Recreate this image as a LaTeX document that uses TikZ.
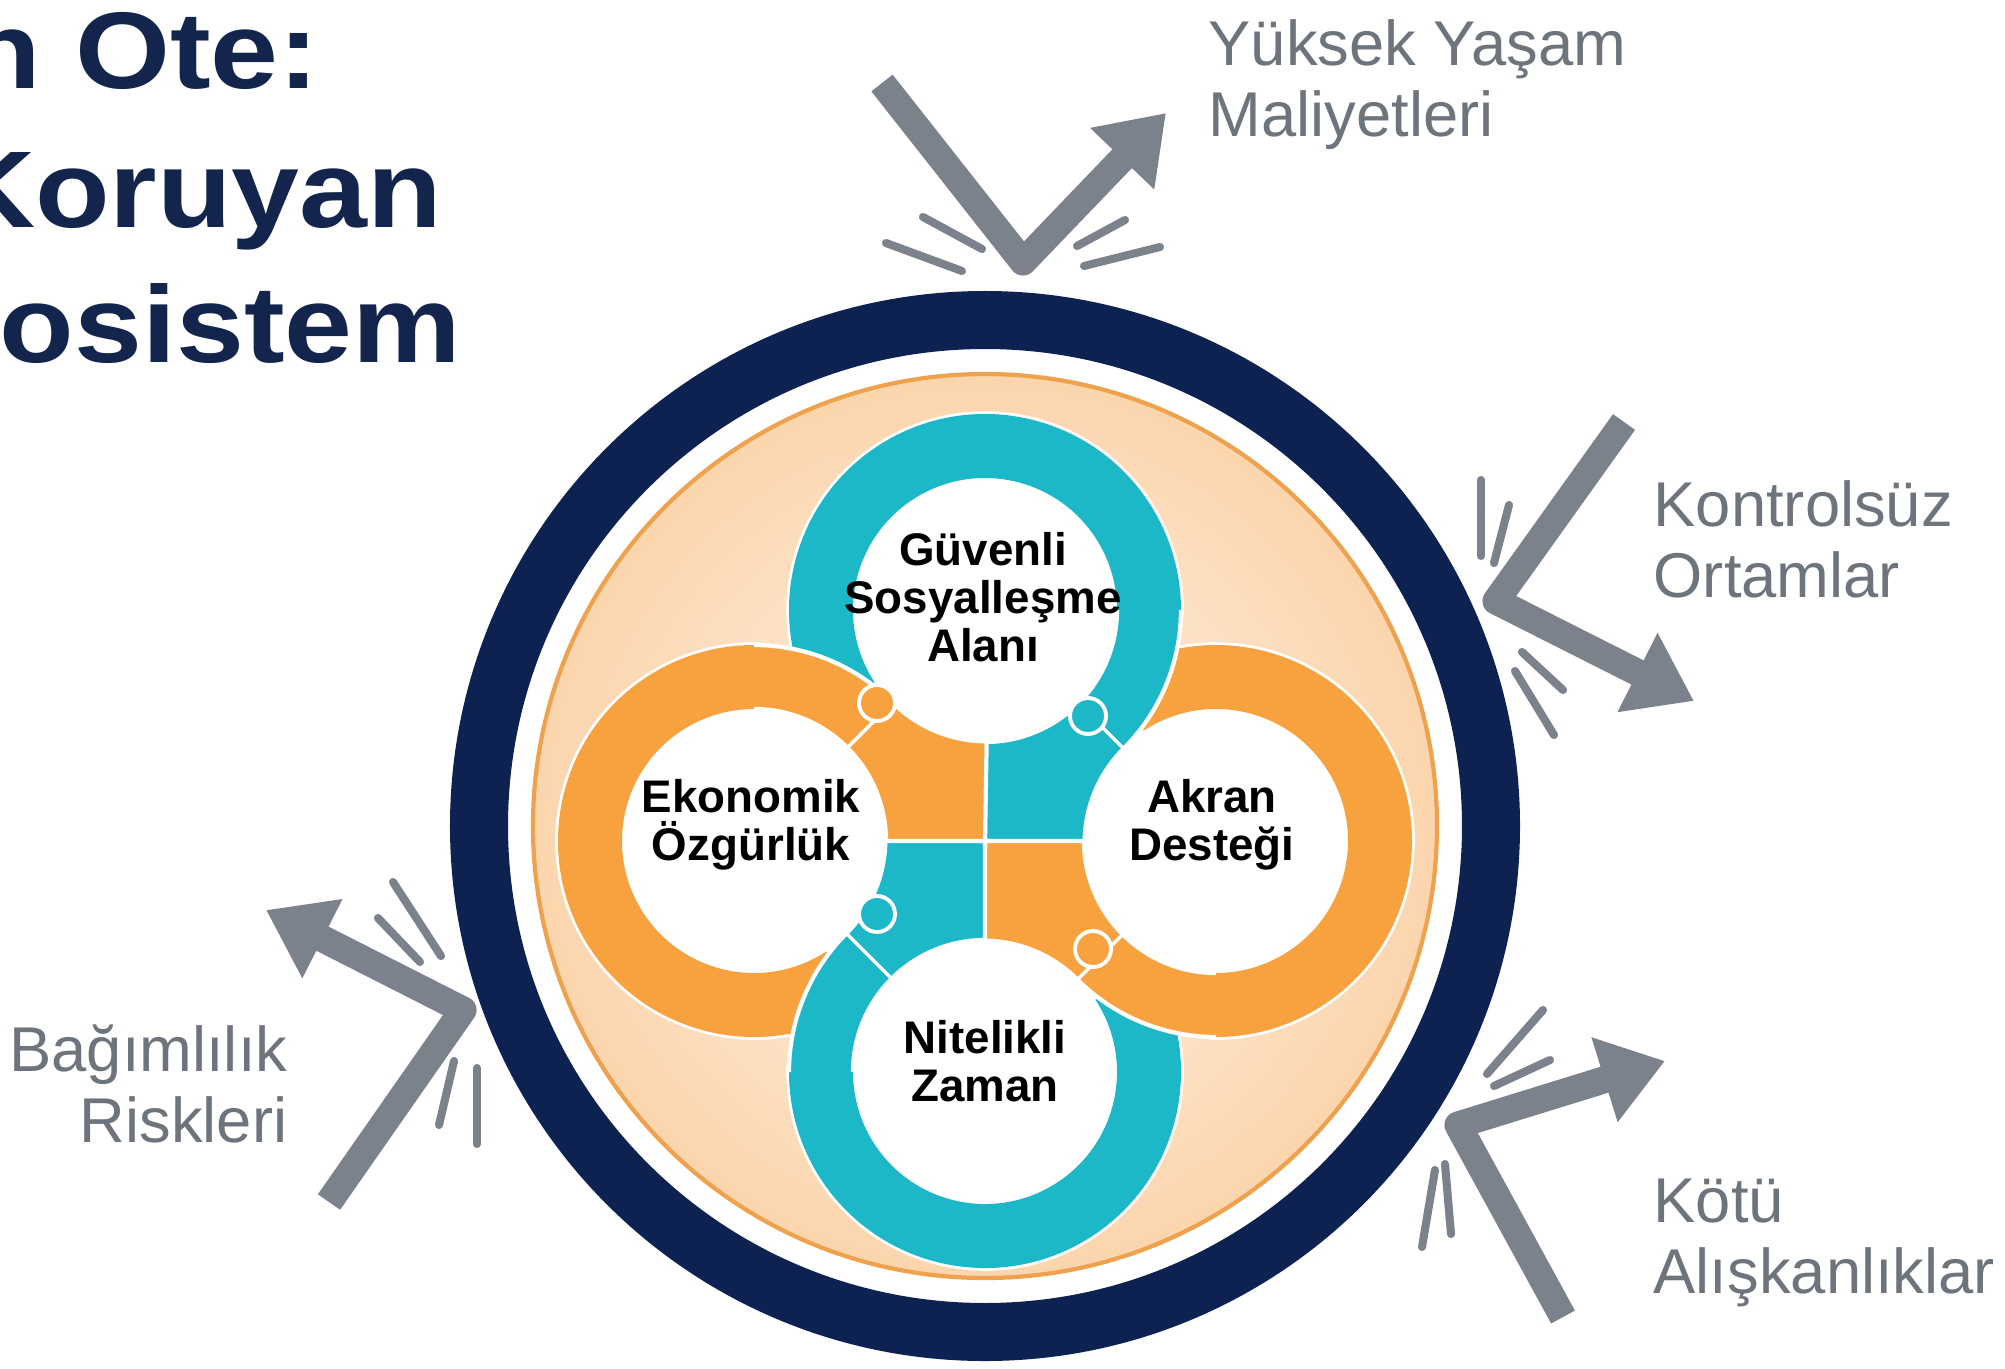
\documentclass[tikz,border=0pt]{standalone}
\usepackage{fontspec}
\setmainfont{Liberation Sans}
\newfontfamily\titlefont[FakeStretch=1.12]{Liberation Sans}
\usetikzlibrary{arrows.meta}

\definecolor{navyring}{HTML}{0E2252}
\definecolor{titlenavy}{HTML}{13244D}
\definecolor{ringteal}{HTML}{1DB8C8}
\definecolor{ringorange}{HTML}{F7A23E}
\definecolor{peachin}{HTML}{FFF6EE}
\definecolor{peachout}{HTML}{FBD5AC}
\definecolor{peachline}{HTML}{EFA24E}
\definecolor{hitgray}{HTML}{7C828B}
\definecolor{labelgray}{HTML}{6E747C}

\tikzset{
	tealband/.style={draw=ringteal, line width=18.2pt, preaction={draw=white, line width=19.8pt}},
	orangeband/.style={draw=ringorange, line width=18.2pt, preaction={draw=white, line width=19.8pt}},
	tealpiece/.style={fill=ringteal, draw=white, line width=1.2pt},
	orangepiece/.style={fill=ringorange, draw=white, line width=1.2pt},
	seam/.style={draw=white, line width=1pt},
	knob/.style={draw=white, line width=1.1pt},
	hitarrow/.style={draw=hitgray, line width=7.7pt, line join=round, -{Triangle[width=24pt,length=18pt]}},
	hitmark/.style={draw=hitgray, line width=2.3pt, line cap=round},
	risk/.style={text=labelgray, font=\fontsize{18}{20.2}\selectfont, inner sep=0pt},
	pillar/.style={text=black, font=\bfseries\fontsize{13}{13.7}\selectfont, align=center, inner sep=0pt},
	headline/.style={text=titlenavy, font=\titlefont\bfseries\fontsize{31}{39}\selectfont, inner sep=0pt, anchor=base east}
}

\begin{document}
\begin{tikzpicture}[x=0.01cm, y=-0.01cm]
	\useasboundingbox (0,0) rectangle (2005,1369);
	\fill [white] (0,0) rectangle (2005,1369);

	\coordinate (O) at (985,826);
	\coordinate (C) at (985,841);
	\coordinate (T) at (985,610);
	\coordinate (L) at (754,841);
	\coordinate (R) at (1216,841);
	\coordinate (B) at (985,1072);

	% title, cut at the left edge
	\node [headline] (head1) at (320,88) {n Ote:};
	\node [headline] (head2) at (443,227) {Koruyan};
	\node [headline] (head3) at (462,362) {osistem};

	% shield
	\draw [navyring, line width=16.5pt] (O) circle [radius=506];
	\shade [inner color=peachin, outer color=peachout] (O) circle [radius=452];
	\draw [peachline, line width=1.2pt] (O) circle [radius=452];

	\fill [white] (T) circle [radius=133];
	\fill [white] (L) circle [radius=133];
	\fill [white] (R) circle [radius=133];
	\fill [white] (B) circle [radius=133];

	% rings, main arcs
	\draw [tealband] (T) ++(147:164) arc [start angle=147, end angle=362, radius=164];
	\draw [orangeband] (R) ++(237:164) arc [start angle=237, end angle=452, radius=164];
	\draw [tealband] (B) ++(327:164) arc [start angle=327, end angle=542, radius=164];
	\draw [orangeband] (L) ++(57:164) arc [start angle=57, end angle=272, radius=164];

	% rings, ends meeting in the middle
	\filldraw [tealpiece] (T) ++(0:196) arc [start angle=0, end angle=45, radius=196]
		arc [start angle=225, end angle=180, radius=133] -- (C) -- (985,742)
		arc [start angle=90, end angle=0, radius=132];
	\filldraw [orangepiece] (R) ++(90:196) arc [start angle=90, end angle=135, radius=196]
		arc [start angle=315, end angle=270, radius=133] -- (C) -- (1084,841)
		arc [start angle=180, end angle=90, radius=132];
	\filldraw [tealpiece] (B) ++(180:196) arc [start angle=180, end angle=225, radius=196]
		arc [start angle=45, end angle=0, radius=133] -- (C) -- (985,940)
		arc [start angle=270, end angle=180, radius=132];
	\filldraw [orangepiece] (L) ++(270:196) arc [start angle=270, end angle=315, radius=196]
		arc [start angle=135, end angle=90, radius=133] -- (C) -- (886,841)
		arc [start angle=360, end angle=270, radius=132];

	% puzzle joints
	\draw [seam] (T) ++(45:131) -- ++(45:66);
	\draw [seam] (R) ++(135:131) -- ++(135:66);
	\draw [seam] (B) ++(225:131) -- ++(225:66);
	\draw [seam] (L) ++(315:131) -- ++(315:66);
	\filldraw [knob, fill=ringteal] (1088,716) circle [radius=18];
	\filldraw [knob, fill=ringorange] (1093,949) circle [radius=18];
	\filldraw [knob, fill=ringteal] (877,914) circle [radius=18];
	\filldraw [knob, fill=ringorange] (877,703) circle [radius=18];

	\node [pillar] (safe) at (983,597) {Güvenli\\Sosyalleşme\\Alanı};
	\node [pillar] (econ) at (751,825) {Ekonomik\\Özgürlük};
	\node [pillar] (peer) at (1212,825) {Akran\\Desteği};
	\node [pillar] (time) at (985,1061) {Nitelikli\\Zaman};

	% threats bouncing off
	\coordinate (cost1) at (882,83);
	\coordinate (cost2) at (1023,262);
	\coordinate (cost3) at (1166,113);
	\draw [hitarrow] (cost1) -- (cost2) -- (cost3);
	\draw [hitmark] (923,217) -- (982,249);
	\draw [hitmark] (886,243) -- (962,271);
	\draw [hitmark] (1077,246) -- (1125,220);
	\draw [hitmark] (1084,266) -- (1160,247);

	\coordinate (place1) at (1624,422);
	\coordinate (place2) at (1496,601);
	\coordinate (place3) at (1694,701);
	\draw [hitarrow] (place1) -- (place2) -- (place3);
	\draw [hitmark] (1481,480) -- (1481,556);
	\draw [hitmark] (1509,505) -- (1494,563);
	\draw [hitmark] (1522,652) -- (1563,690);
	\draw [hitmark] (1515,671) -- (1554,735);

	\coordinate (risk1) at (329,1202);
	\coordinate (risk2) at (463,1010);
	\coordinate (risk3) at (266,910);
	\draw [hitarrow] (risk1) -- (risk2) -- (risk3);
	\draw [hitmark] (393,882) -- (441,956);
	\draw [hitmark] (378,918) -- (420,962);
	\draw [hitmark] (454,1061) -- (439,1125);
	\draw [hitmark] (477,1068) -- (477,1144);

	\coordinate (habit1) at (1563,1317);
	\coordinate (habit2) at (1458,1125);
	\coordinate (habit3) at (1665,1061);
	\draw [hitarrow] (habit1) -- (habit2) -- (habit3);
	\draw [hitmark] (1487,1074) -- (1543,1010);
	\draw [hitmark] (1494,1086) -- (1550,1060);
	\draw [hitmark] (1422,1247) -- (1435,1170);
	\draw [hitmark] (1451,1234) -- (1445,1164);

	\node [risk, anchor=west, align=left] (cost) at (1208,85) {Yüksek Yaşam\\Maliyetleri};
	\node [risk, anchor=west, align=left] (place) at (1653,539) {Kontrolsüz\\Ortamlar};
	\node [risk, anchor=east, align=right] (addict) at (288,1084) {Bağımlılık\\Riskleri};
	\node [risk, anchor=west, align=left] (habit) at (1653,1243) {Kötü\\Alışkanlıklar};
\end{tikzpicture}
\end{document}
